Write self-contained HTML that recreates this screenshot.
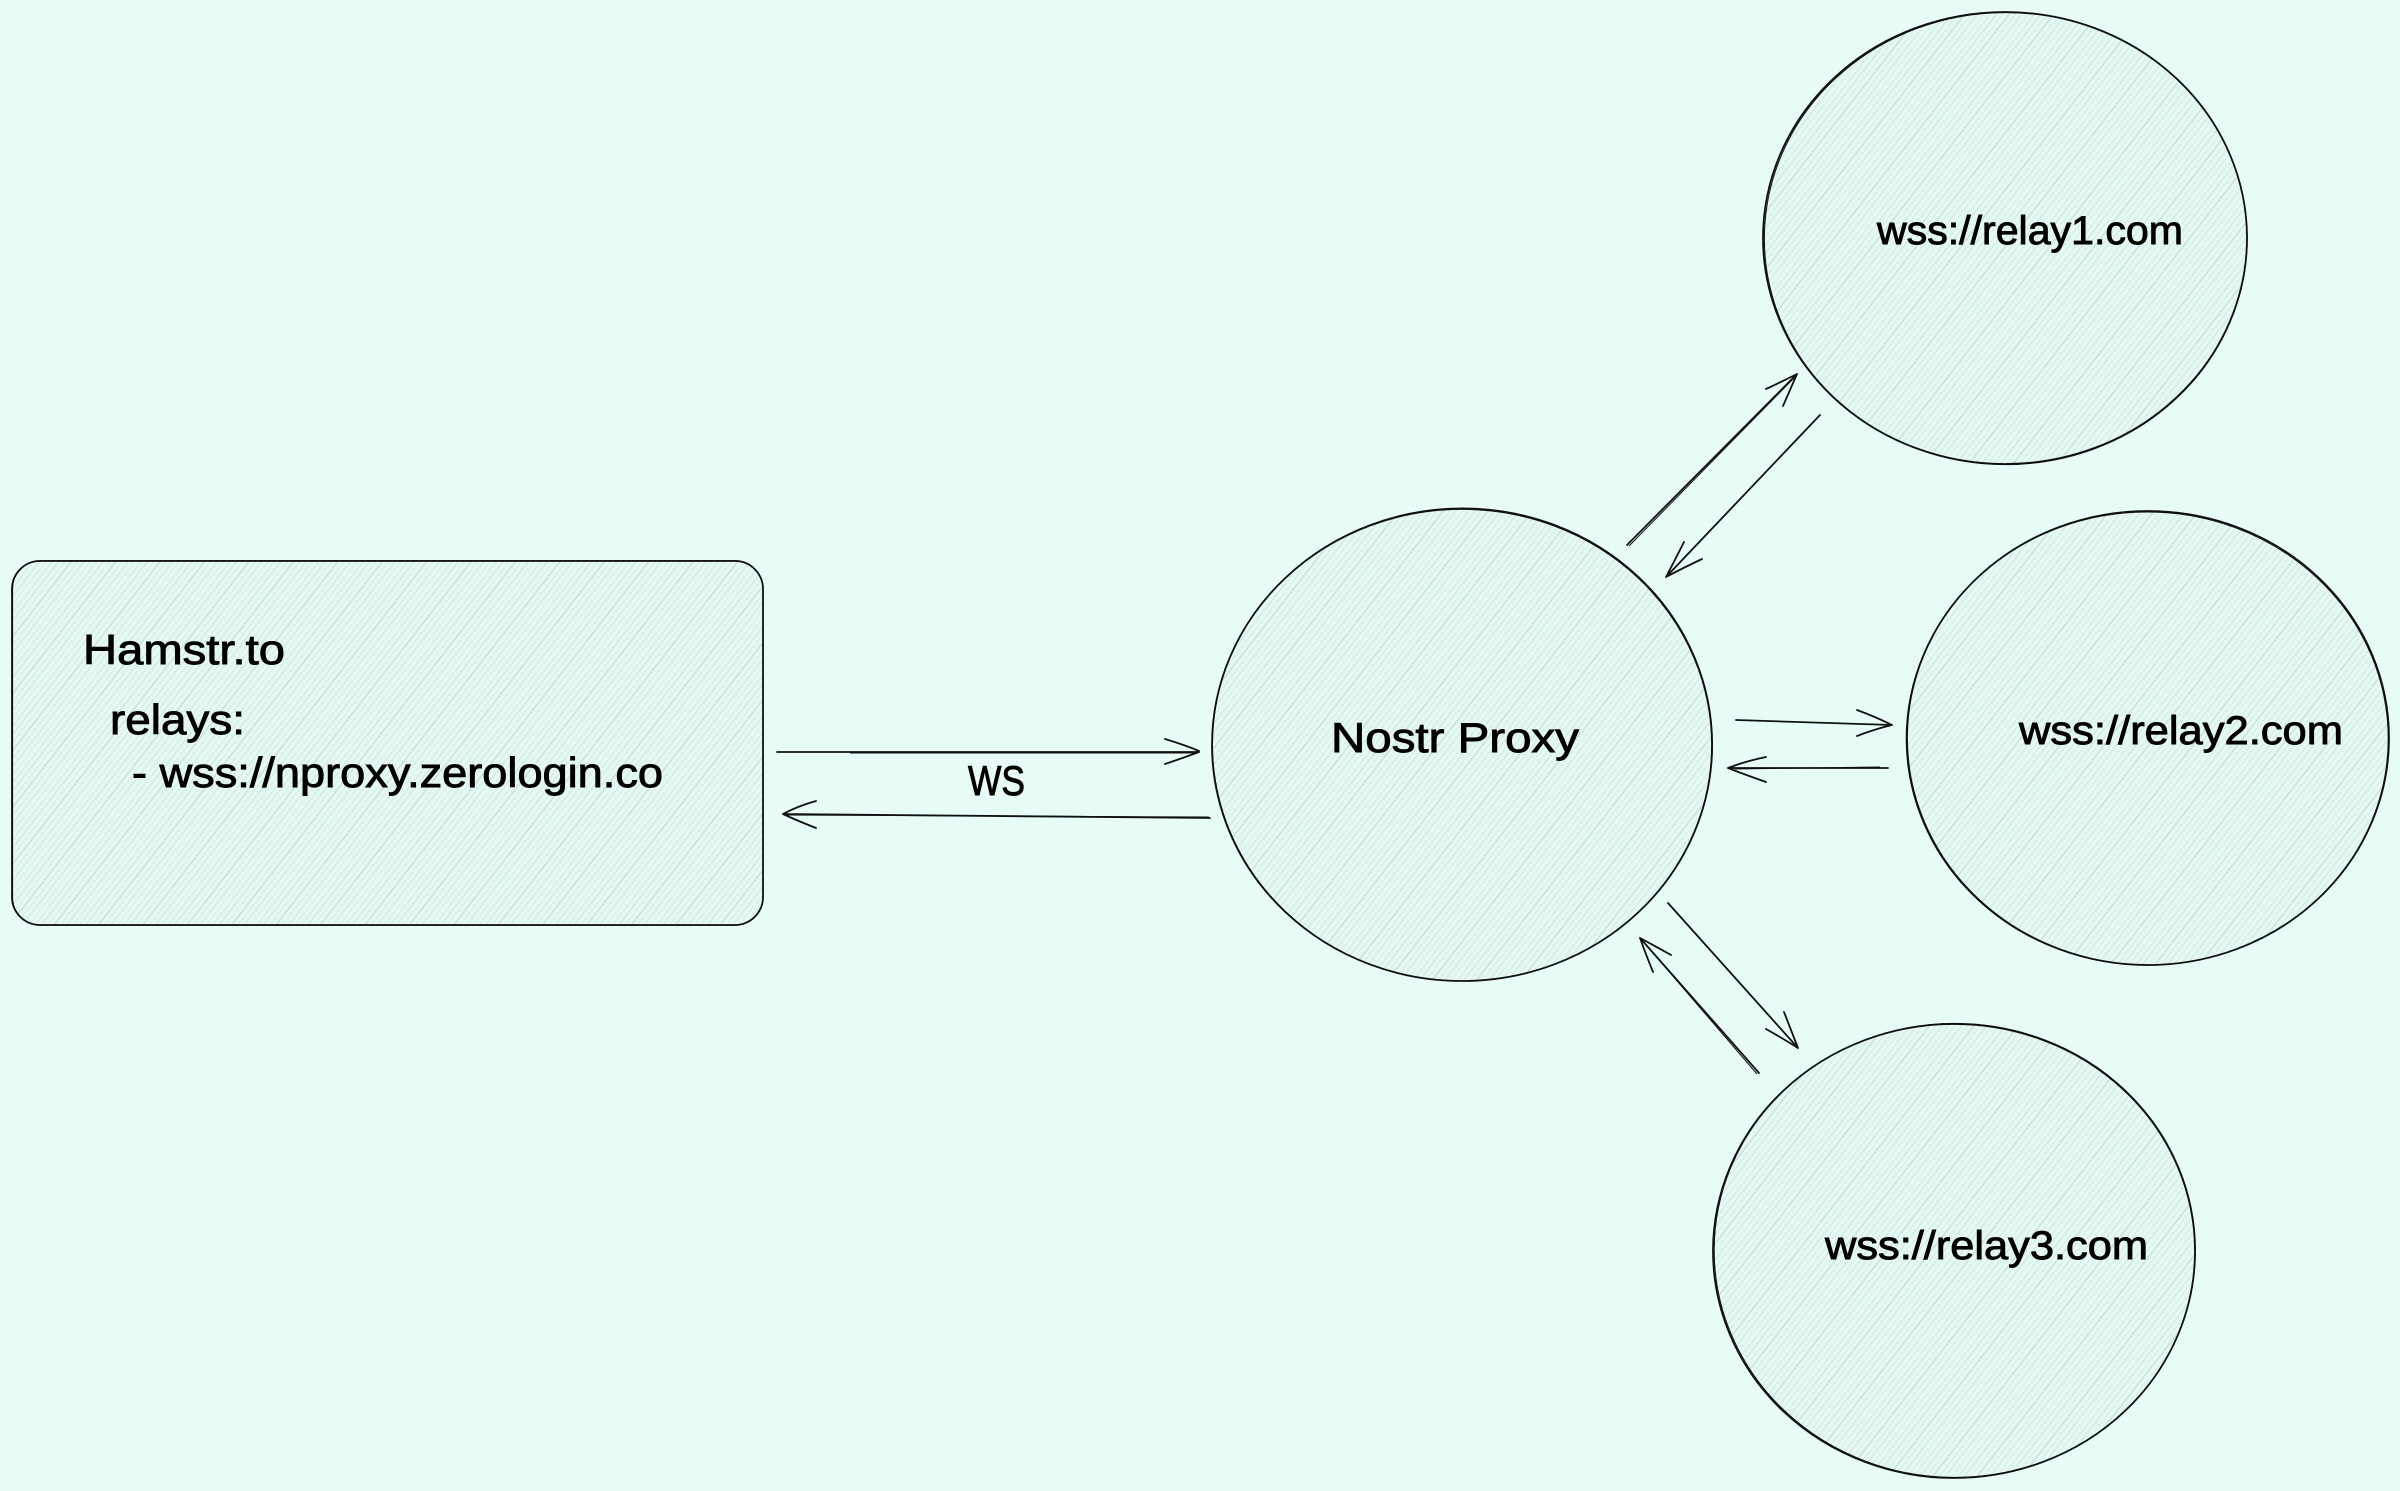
<!DOCTYPE html>
<html>
<head>
<meta charset="utf-8">
<title>Nostr Proxy diagram</title>
<style>
html,body{margin:0;padding:0;background:#e6fcf5;}
svg{display:block;}
text{font-family:"Liberation Sans",sans-serif;fill:#000;stroke:#000;stroke-width:.9px;}
.s{fill:none;stroke:#111;stroke-width:1.8;stroke-linecap:round;stroke-linejoin:round;}
.t{fill:none;stroke:#111;stroke-width:1;}
</style>
</head>
<body>
<svg width="2400" height="1491" viewBox="0 0 2400 1491" xmlns="http://www.w3.org/2000/svg">
<defs>
<pattern id="h" width="35" height="60" patternUnits="userSpaceOnUse" patternTransform="rotate(38)">
<rect width="35" height="60" fill="#e5faf4"/>
<g fill="none">
<line x1="2" y1="0" x2="2" y2="60" stroke="#d8ece8" stroke-width="1.4"/>
<line x1="7" y1="0" x2="7" y2="60" stroke="#d5e9e5" stroke-width="1.5"/>
<line x1="12" y1="0" x2="12" y2="60" stroke="#daeeea" stroke-width="1.3"/>
<line x1="17" y1="0" x2="17" y2="60" stroke="#cfe3df" stroke-width="1.8"/>
<line x1="22" y1="0" x2="22" y2="60" stroke="#d9ede9" stroke-width="1.3"/>
<line x1="27" y1="0" x2="27" y2="60" stroke="#d6eae6" stroke-width="1.5"/>
<line x1="32" y1="0" x2="32" y2="60" stroke="#daeeea" stroke-width="1.3"/>
</g>
</pattern>
</defs>
<rect width="2400" height="1491" fill="#e6fcf5"/>

<!-- fills -->
<rect x="12" y="561" width="751" height="364" rx="28" fill="url(#h)"/>
<ellipse cx="1462" cy="745" rx="250" ry="236" fill="url(#h)"/>
<ellipse cx="2005" cy="238" rx="242" ry="226" fill="url(#h)"/>
<ellipse cx="2148" cy="738" rx="241" ry="227" fill="url(#h)"/>
<ellipse cx="1954" cy="1251" rx="241" ry="227" fill="url(#h)"/>

<!-- outlines -->
<rect class="s" x="12" y="561" width="751" height="364" rx="28"/>
<rect class="t" x="12.6" y="560.6" width="750.4" height="364.6" rx="28"/>
<ellipse class="s" cx="1462" cy="745" rx="250" ry="236"/>
<ellipse class="t" cx="1462.5" cy="744.5" rx="250" ry="236.5"/>
<ellipse class="s" cx="2005" cy="238" rx="242" ry="226"/>
<ellipse class="t" cx="2005.8" cy="238.6" rx="241.4" ry="226"/>
<ellipse class="s" cx="2148" cy="738" rx="241" ry="227"/>
<ellipse class="t" cx="2147.2" cy="738.6" rx="241" ry="226.6"/>
<ellipse class="s" cx="1954" cy="1251" rx="241" ry="227"/>
<ellipse class="t" cx="1954.8" cy="1250.4" rx="240.6" ry="227"/>

<!-- connectors -->
<g>
<path class="s" d="M777 752 L1199 752 M1165 739 Q1185 745 1199 751 M1165 764 Q1183 758 1199 752"/>
<path class="t" d="M850 753 L1198 753"/>
<path class="s" d="M1210 818 L783 814 M816 801 Q798 806 783 814 M816 828 Q798 821 783 814"/>
<path class="t" d="M1209 817 L784 815"/>

<path class="s" d="M1627 545 L1797 374 M1766 389 Q1783 381 1797 374 M1783 406 Q1790 390 1797 374"/>
<path class="t" d="M1629 546 L1796 376"/>
<path class="s" d="M1820 415 L1666 577 M1684 542 Q1675 560 1666 577 M1702 559 Q1683 568 1666 577"/>

<path class="s" d="M1736 720 L1892 725 M1857 710 Q1876 717 1892 725 M1857 736 Q1875 729 1892 725"/>
<path class="s" d="M1888 768 L1728 768 M1766 757 Q1746 761 1728 768 M1766 782 Q1746 775 1728 768"/>
<path class="t" d="M1880 767 L1735 769"/>

<path class="s" d="M1668 903 L1798 1048 M1784 1012 Q1791 1030 1798 1048 M1766 1029 Q1782 1038 1798 1048"/>
<path class="s" d="M1759 1073 L1640 938 M1671 955 Q1655 946 1640 938 M1653 972 Q1646 955 1640 938"/>
<path class="t" d="M1757 1074 L1641 939"/>
</g>

<!-- labels -->
<text x="83" y="664" font-size="42" textLength="202" lengthAdjust="spacingAndGlyphs">Hamstr.to</text>
<text x="110" y="734" font-size="42" textLength="135" lengthAdjust="spacingAndGlyphs">relays:</text>
<text x="132" y="787" font-size="42" textLength="531" lengthAdjust="spacingAndGlyphs">- wss://nproxy.zerologin.co</text>
<text x="968" y="795" font-size="42" textLength="57" lengthAdjust="spacingAndGlyphs">WS</text>
<text x="1331" y="752" font-size="42" textLength="248" lengthAdjust="spacingAndGlyphs">Nostr Proxy</text>
<text x="1877" y="244" font-size="40" textLength="306" lengthAdjust="spacingAndGlyphs">wss://relay1.com</text>
<text x="2019" y="744" font-size="40" textLength="324" lengthAdjust="spacingAndGlyphs">wss://relay2.com</text>
<text x="1825" y="1259" font-size="40" textLength="323" lengthAdjust="spacingAndGlyphs">wss://relay3.com</text>
</svg>
</body>
</html>
